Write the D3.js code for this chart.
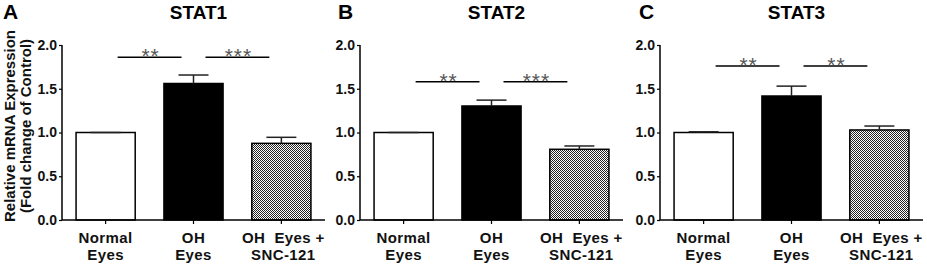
<!DOCTYPE html>
<html>
<head>
<meta charset="utf-8">
<script src="https://cdn.jsdelivr.net/npm/d3@7"></script>
<style>
  body { margin: 0; background: #fff; }
  text { font-family: "Liberation Sans", Arial, sans-serif; }
</style>
</head>
<body>
<div id="chart"></div>
<script>
// data
const groups = ["Normal Eyes", "OH Eyes", "OH Eyes + SNC-121"]
const groupLines = [["Normal", "Eyes"], ["OH", "Eyes"], ["OH\u00A0\u00A0Eyes +", "SNC-121"]]
const genes = ["STAT1", "STAT2", "STAT3"]
const letters = ["A", "B", "C"]
const means = [
	[1.0, 1.56, 0.876],
	[1.0, 1.303, 0.808],
	[1.0, 1.417, 1.029]
]
const errs = [
	[0, 0.097, 0.069],
	[0, 0.067, 0.038],
	[0.008, 0.113, 0.045]
]
const sigHeight = [1.86, 1.58, 1.76]
const sigMarks = [["**", "***"], ["**", "***"], ["**", "**"]]
const yTicks = [0, 0.5, 1.0, 1.5, 2.0]

const width = 927, height = 265
const svg = d3.select("#chart").append("svg")
	.attr("width", width)
	.attr("height", height)

// checker pattern for the treated group
const pat = svg.append("defs").append("pattern")
	.attr("id", "checker")
	.attr("width", 2).attr("height", 2)
	.attr("patternUnits", "userSpaceOnUse")
pat.append("rect").attr("width", 2).attr("height", 2).attr("fill", "#fff")
pat.append("rect").attr("width", 1).attr("height", 1).attr("fill", "#222")
pat.append("rect").attr("x", 1).attr("y", 1).attr("width", 1).attr("height", 1).attr("fill", "#222")

const fills = ["#fff", "#000", "url(#checker)"]
const panelX = [62, 360, 660]
const letterX = [3, 338, 639]
const plotW = 263
const plotTop = 45, plotBottom = 220

const y = d3.scaleLinear().domain([0, 2]).range([plotBottom, plotTop])

genes.forEach(function(gene, p) {
	const g = svg.append("g").attr("transform", `translate(${panelX[p]},0)`)

	const x = d3.scaleBand()
		.domain(groups)
		.range([0, plotW])
		.paddingInner(0.327)
		.paddingOuter(0.16)

	// bars
	g.selectAll(".bar")
		.data(groups)
		.join("rect")
		.attr("class", "bar")
		.attr("x", d => x(d))
		.attr("y", (d, i) => y(means[p][i]))
		.attr("width", x.bandwidth())
		.attr("height", (d, i) => plotBottom - y(means[p][i]))
		.attr("fill", (d, i) => fills[i])
		.attr("stroke", "#000")
		.attr("stroke-width", 1.5)

	// error bars (upper only)
	const eb = g.selectAll(".err")
		.data(groups)
		.join("g")
		.attr("class", "err")
		.attr("stroke", "#222")
		.attr("stroke-width", 1.5)
	eb.append("line")
		.attr("x1", d => x(d) + x.bandwidth() / 2)
		.attr("x2", d => x(d) + x.bandwidth() / 2)
		.attr("y1", (d, i) => y(means[p][i]))
		.attr("y2", (d, i) => y(means[p][i] + errs[p][i]))
	eb.append("line")
		.attr("x1", d => x(d) + x.bandwidth() / 2 - 15)
		.attr("x2", d => x(d) + x.bandwidth() / 2 + 15)
		.attr("y1", (d, i) => y(means[p][i] + errs[p][i]))
		.attr("y2", (d, i) => y(means[p][i] + errs[p][i]))

	// axes
	const yAxis = g.append("g")
		.call(d3.axisLeft(y).tickValues(yTicks).tickSize(3).tickPadding(2).tickFormat(d3.format(".1f")))
	const xAxis = g.append("g")
		.attr("transform", `translate(0,${plotBottom})`)
		.call(d3.axisBottom(x).tickSize(4).tickFormat(""))
	g.selectAll(".domain").attr("stroke", "#000").attr("stroke-width", 1.5)
	g.selectAll(".tick line").attr("stroke", "#000").attr("stroke-width", 1.2)
	xAxis.select(".domain").attr("d", `M0,0H${plotW}`)
	yAxis.select(".domain").attr("d", `M0,${plotTop}V${plotBottom}`)
	yAxis.selectAll("text")
		.style("font-size", "14px")
		.style("font-weight", "bold")
		.attr("fill", "#111")

	// x labels
	const lab = g.selectAll(".xlab")
		.data(groups)
		.join("text")
		.attr("class", "xlab")
		.attr("text-anchor", "middle")
		.style("font-size", "15px")
		.style("font-weight", "bold")
		.style("letter-spacing", "0.4px")
		.attr("fill", "#111")
	lab.each(function(d, i) {
		const t = d3.select(this)
		groupLines[i].forEach(function(s, k) {
			t.append("tspan")
				.attr("x", x(d) + x.bandwidth() / 2 + (i == 2 ? 2 : 0))
				.attr("y", 243 + k * 17)
				.text(s)
		})
	})

	// significance lines
	for (let k = 0; k < 2; k++) {
		const x1 = x(groups[k]) + x.bandwidth() / 2 + 12
		const x2 = x(groups[k + 1]) + x.bandwidth() / 2 - 12
		const yy = y(sigHeight[p])
		g.append("line")
			.attr("x1", x1).attr("x2", x2)
			.attr("y1", yy).attr("y2", yy)
			.attr("stroke", "#000")
			.attr("stroke-width", 1.5)
		g.append("text")
			.attr("x", (x1 + x2) / 2 + 1)
			.attr("y", yy + 6)
			.attr("text-anchor", "middle")
			.style("font-size", "21px")
			.style("letter-spacing", "1px")
			.attr("fill", "#555")
			.text(sigMarks[p][k])
	}

	// title
	svg.append("text")
		.attr("x", panelX[p] + plotW / 2 + 5)
		.attr("y", 19)
		.attr("text-anchor", "middle")
		.style("font-size", "19px")
		.style("font-weight", "bold")
		.text(gene)
	svg.append("text")
		.attr("x", letterX[p])
		.attr("y", 19)
		.style("font-size", "21px")
		.style("font-weight", "bold")
		.text(letters[p])
})

// y axis title
const yt = svg.append("text")
	.attr("transform", `translate(0,126) rotate(-90)`)
	.attr("text-anchor", "middle")
	.style("font-size", "15px")
	.style("font-weight", "bold")
	.attr("fill", "#111")
yt.append("tspan").attr("x", 0).attr("y", 15).text("Relative mRNA Expression")
yt.append("tspan").attr("x", 0).attr("y", 31).text("(Fold change of Control)")
</script>
</body>
</html>
